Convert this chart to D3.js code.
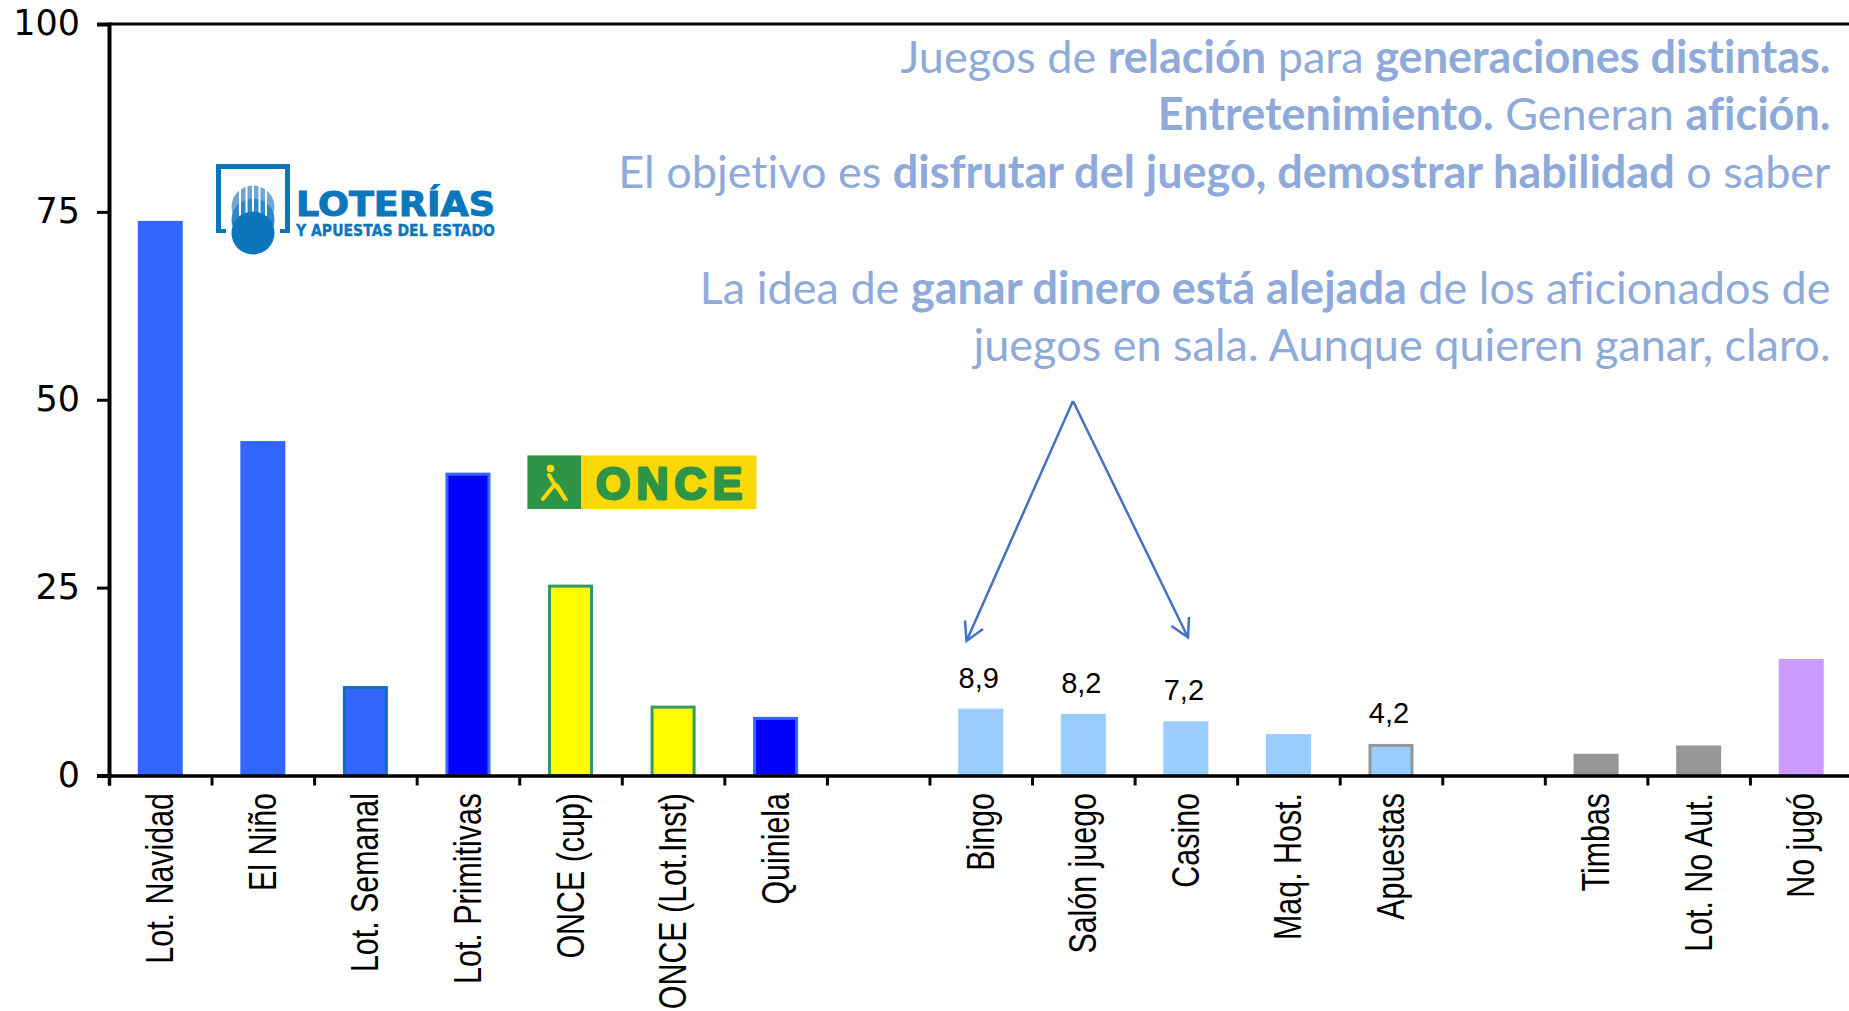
<!DOCTYPE html>
<html>
<head>
<meta charset="utf-8">
<script src="https://cdn.jsdelivr.net/npm/d3@7/dist/d3.min.js"></script>
<style>
  html, body { margin: 0; padding: 0; background: #fff; overflow: hidden; }
</style>
</head>
<body>
<div id="chart"></div>
<script>
// categorias, os huecos separan los grupos de juegos
const categories = ["Lot. Navidad", "El Niño", "Lot. Semanal", "Lot. Primitivas", "ONCE (cup)", "ONCE (Lot.Inst)", "Quiniela", "",
    "Bingo", "Salón juego", "Casino", "Maq. Host.", "Apuestas", "",
    "Timbas", "Lot. No Aut.", "No jugó"];
const values = [73.8, 44.5, 11.9, 40.3, 25.4, 9.3, 7.8, null,
    8.9, 8.2, 7.2, 5.5, 4.2, null,
    2.9, 4.0, 15.5];
const valueLabels = [null, null, null, null, null, null, null, null,
    "8,9", "8,2", "7,2", null, "4,2", null,
    null, null, null];
const yTicks = [0, 25, 50, 75, 100];

const fills = ["#3366FF", "#3366FF", "#3366FF", "#0000FF", "#FFFF00", "#FFFF00", "#0000FF", "none",
    "#99CCFF", "#99CCFF", "#99CCFF", "#99CCFF", "#99CCFF", "none",
    "#969696", "#969696", "#CC99FF"];
const strokes = ["none", "none", "#0B6FC4", "#3366FF", "#339966", "#339966", "#3366FF", "none",
    "none", "none", "none", "none", "#969696", "none",
    "none", "none", "none"];

// cada linea del texto: [texto, negrita]
const noteLines = [
    { y: 72.5, runs: [["Juegos de ", 0], ["relación", 1], [" para ", 0], ["generaciones distintas.", 1]] },
    { y: 130, runs: [["Entretenimiento.", 1], [" Generan ", 0], ["afición.", 1]] },
    { y: 187.5, runs: [["El objetivo es ", 0], ["disfrutar del juego, demostrar habilidad", 1], [" o saber", 0]] },
    { y: 303.5, runs: [["La idea de ", 0], ["ganar dinero está alejada", 1], [" de los aficionados de", 0]] },
    { y: 361, runs: [["juegos en sala. Aunque quieren ganar, claro.", 0]] }
];

const width = 1849;
const height = 1011;
const margin = { top: 24, right: -3.5, bottom: 235.5, left: 109 };
const barWidth = 45;

const svg = d3.select("#chart")
    .append("svg")
    .attr("width", width)
    .attr("height", height)
    .style("display", "block")
    .style("background", "white");

const x = d3.scaleBand()
    .domain(d3.range(categories.length))
    .range([margin.left, width - margin.right]);

const y = d3.scaleLinear()
    .domain([0, 100])
    .range([height - margin.bottom, margin.top]);

// Barras
const bars = categories.map((c, i) => ({ c, i, v: values[i], label: valueLabels[i] })).filter(d => d.v !== null);

svg.append("g").selectAll("rect")
    .data(bars)
    .join("rect")
    .attr("x", d => x(d.i) + x.bandwidth() / 2 - barWidth / 2 + (strokes[d.i] === "none" ? 0 : 1.5))
    .attr("y", d => y(d.v) + (strokes[d.i] === "none" ? 0 : 1.5))
    .attr("width", d => barWidth - (strokes[d.i] === "none" ? 0 : 3))
    .attr("height", d => y(0) - y(d.v) - (strokes[d.i] === "none" ? 0 : 1.5))
    .attr("fill", d => fills[d.i])
    .attr("stroke", d => strokes[d.i])
    .attr("stroke-width", 3);

// Etiquetas de valor
svg.append("g").selectAll("text")
    .data(bars.filter(d => d.label))
    .join("text")
    .attr("x", d => x(d.i) + x.bandwidth() / 2 - 2)
    .attr("y", d => y(d.v) - 21)
    .attr("text-anchor", "middle")
    .attr("font-family", "'Liberation Sans', Arial, sans-serif")
    .attr("font-size", 29)
    .attr("fill", "#000")
    .text(d => d.label);

// Eje Y
const yAxis = svg.append("g")
    .attr("transform", `translate(${margin.left},0)`)
    .call(d3.axisLeft(y).tickValues(yTicks).tickSize(12).tickPadding(17));
yAxis.select(".domain").attr("stroke", "#000").attr("stroke-width", 4);
yAxis.selectAll(".tick line").attr("stroke", "#000").attr("stroke-width", 3);
yAxis.selectAll(".tick text")
    .attr("fill", "#000")
    .attr("font-family", "'DejaVu Sans', Verdana, sans-serif")
    .attr("font-size", 35)
    .attr("dy", "0.3em");

// Linea superior
svg.append("line")
    .attr("x1", margin.left)
    .attr("x2", width)
    .attr("y1", y(100))
    .attr("y2", y(100))
    .attr("stroke", "#000")
    .attr("stroke-width", 3);

// Eje X, las marcas van entre categorias
const xEdges = d3.scaleLinear().domain([0, categories.length]).range(x.range());
const xAxis = svg.append("g")
    .attr("transform", `translate(0,${y(0)})`)
    .call(d3.axisBottom(xEdges).tickValues(d3.range(categories.length + 1)).tickSize(10).tickFormat(""));
xAxis.select(".domain").attr("stroke", "#000").attr("stroke-width", 3.5);
xAxis.selectAll(".tick line").attr("stroke", "#000").attr("stroke-width", 3);

svg.append("g").selectAll("text")
    .data(categories.map((c, i) => ({ c, i })).filter(d => d.c))
    .join("text")
    .attr("transform", d => `translate(${x(d.i) + x.bandwidth() / 2 + 13},793) rotate(-90) scale(0.8,1)`)
    .attr("text-anchor", "end")
    .attr("font-family", "'Liberation Sans', Arial, sans-serif")
    .attr("font-size", 38)
    .attr("fill", "#000")
    .text(d => d.c);

// Texto explicativo
const note = svg.append("g");
noteLines.forEach(line => {
    const t = note.append("text")
        .attr("x", 1830.5)
        .attr("y", line.y)
        .attr("text-anchor", "end")
        .attr("font-family", "Lato, 'Open Sans', sans-serif")
        .attr("font-size", 45)
        .attr("fill", "#8EAADB")
        .style("font-variant-ligatures", "none");
    line.runs.forEach(r => {
        t.append("tspan")
            .attr("font-weight", r[1] ? 700 : 400)
            .attr("xml:space", "preserve")
            .style("white-space", "pre")
            .text(r[0]);
    });
});

// Flechas
const arrowColor = "#4472C4";
const arrows = svg.append("g")
    .attr("fill", "none")
    .attr("stroke", arrowColor)
    .attr("stroke-width", 2.5);
arrows.append("path").attr("d", "M1073,401 L966.5,641 M965,620.5 L966.5,641 L983,629");
arrows.append("path").attr("d", "M1073,401 L1188,637.5 M1189,617 L1188,637.5 L1171.5,626");

// Logo Loterias
const loterias = svg.append("g");
const logoBlue = "#0B76BC";
loterias.append("path")
    .attr("d", "M226,233 L216,233 L216,164 L290,164 L290,233 L280,233 L280,229 L285,229 L285,169 L221,169 L221,229 L226,229 Z")
    .attr("fill", logoBlue);
loterias.append("circle").attr("cx", 253).attr("cy", 207).attr("r", 21.5).attr("fill", "#6FA6D2");
loterias.append("circle").attr("cx", 253).attr("cy", 220).attr("r", 21.5).attr("fill", "#2E87C6");
[-13, -6.5, 0, 6.5, 13].forEach(dx => {
    loterias.append("line")
        .attr("x1", 253 + dx).attr("x2", 253 + dx)
        .attr("y1", 183).attr("y2", 216)
        .attr("stroke", "#fff").attr("stroke-width", 2);
});
loterias.append("circle").attr("cx", 253).attr("cy", 233).attr("r", 21.5).attr("fill", logoBlue);
loterias.append("text")
    .attr("x", 296).attr("y", 215.5)
    .attr("textLength", 199).attr("lengthAdjust", "spacingAndGlyphs")
    .attr("font-family", "'DejaVu Sans', sans-serif")
    .attr("font-weight", 700).attr("font-size", 34)
    .attr("fill", logoBlue)
    .attr("stroke", logoBlue).attr("stroke-width", 1)
    .text("LOTERÍAS");
loterias.append("text")
    .attr("x", 296).attr("y", 236)
    .attr("textLength", 199).attr("lengthAdjust", "spacingAndGlyphs")
    .attr("font-family", "'DejaVu Sans', sans-serif")
    .attr("font-weight", 700).attr("font-size", 15.5)
    .attr("fill", logoBlue)
    .attr("stroke", logoBlue).attr("stroke-width", 0.4)
    .text("Y APUESTAS DEL ESTADO");

// Logo ONCE
const once = svg.append("g");
const onceGreen = "#2E9547";
const onceYellow = "#FBD806";
once.append("rect").attr("x", 527.5).attr("y", 455.5).attr("width", 229).attr("height", 53.5).attr("fill", onceYellow);
once.append("rect").attr("x", 527.5).attr("y", 455.5).attr("width", 53.5).attr("height", 53.5).attr("fill", onceGreen);
once.append("circle").attr("cx", 550.5).attr("cy", 468.5).attr("r", 3.8).attr("fill", onceYellow);
once.append("path")
    .attr("d", "M549,475 L556,487 M555,484 L543,499 M555,484 L565,499")
    .attr("fill", "none").attr("stroke", onceYellow).attr("stroke-width", 4).attr("stroke-linecap", "round");
once.append("line")
    .attr("x1", 558).attr("y1", 484).attr("x2", 568).attr("y2", 501)
    .attr("stroke", onceYellow).attr("stroke-width", 1.2);
once.append("text")
    .attr("x", 596).attr("y", 498.5)
    .attr("textLength", 146).attr("lengthAdjust", "spacing")
    .attr("font-family", "'Liberation Sans', Arial, sans-serif")
    .attr("font-weight", 700).attr("font-size", 44)
    .attr("fill", onceGreen)
    .attr("stroke", onceGreen).attr("stroke-width", 3).attr("stroke-linejoin", "round")
    .text("ONCE");
</script>
</body>
</html>
